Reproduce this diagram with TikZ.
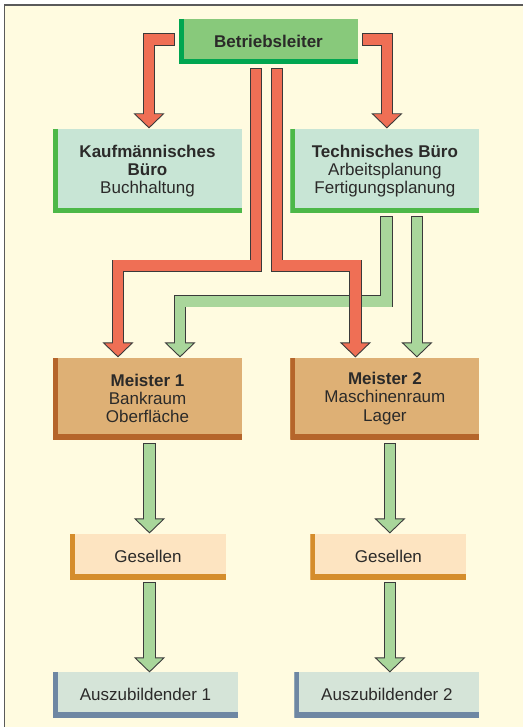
\documentclass[tikz,border=0pt]{standalone}
\usepackage{fontspec}
\setmainfont{Liberation Sans}
\usetikzlibrary{calc, positioning}

\definecolor{cream}{HTML}{FFFBE0}
\definecolor{framegray}{HTML}{5A5A5A}
\definecolor{edge}{HTML}{3A3A3A}
\definecolor{ink}{HTML}{2B2A29}
\definecolor{redfill}{HTML}{EF6F55}
\definecolor{greenfill}{HTML}{A9D69B}
\definecolor{bossfill}{HTML}{88C97B}
\definecolor{bossbar}{HTML}{00A651}
\definecolor{officefill}{HTML}{C8E5D5}
\definecolor{officebar}{HTML}{4DB848}
\definecolor{masterfill}{HTML}{DEB075}
\definecolor{masterbar}{HTML}{B5652B}
\definecolor{journeyfill}{HTML}{FDE4C1}
\definecolor{journeybar}{HTML}{D58D2C}
\definecolor{traineefill}{HTML}{D5E4D8}
\definecolor{traineebar}{HTML}{6E87A3}

% fat outlined arrow: fill colour, path up to the tip, tip
\newcommand{\fatarrow}[3]{%
	\draw[fatline] #2 (#3);
	\filldraw[fathead=#1] (#3) -- ++(-14.5,-14) -- ++(29,0) -- cycle;
	\draw[fatfill=#1] #2 (#3);
}

\begin{document}
\begin{tikzpicture}
		[x=1pt, y=-1pt,
		box/.style 2 args={fill=#1, inner sep=0pt, align=center, text=ink,
			font=\fontsize{17}{18.3}\selectfont,
			path picture={\draw[line width=10pt, draw=#2]
				(path picture bounding box.north west) --
				(path picture bounding box.south west) --
				(path picture bounding box.south east);}},
		fatline/.style={line width=12.4pt, draw=edge, shorten >=13pt},
		fatfill/.style={line width=10.6pt, draw=#1, shorten >=12.6pt, shorten <=0.9pt},
		fathead/.style={fill=#1, draw=edge, line width=0.9pt}]
	
		\useasboundingbox (0,0) rectangle (523,727);
		\fill[white] (0,0) rectangle (523,727);
		\fill[cream] (4,5) rectangle (523,727);
		\draw[framegray, line width=1.6pt] (4.3,727) -- (4.3,5.3) -- (523,5.3);
	
		% nodes %
		\node[box={bossfill}{bossbar}, minimum width=179pt, minimum height=45pt] (boss) at (268.5,41.5) {\textbf{Betriebsleiter}};
		\node[box={officefill}{officebar}, minimum width=189pt, minimum height=84pt] (kauf) at (147.5,171) {\textbf{Kaufmännisches}\\\textbf{Büro}\\Buchhaltung};
		\node[box={officefill}{officebar}, minimum width=189pt, minimum height=84pt, right=48pt of kauf] (tech) {\textbf{Technisches Büro}\\Arbeitsplanung\\Fertigungsplanung};
		\node[box={masterfill}{masterbar}, minimum width=189pt, minimum height=81pt] (m1) at (147.5,398.5) {\textbf{Meister 1}\\Bankraum\\Oberfläche};
		\node[box={masterfill}{masterbar}, minimum width=189pt, minimum height=81pt, right=48pt of m1] (m2) {\textbf{Meister 2}\\Maschinenraum\\Lager};
		\node[box={journeyfill}{journeybar}, minimum width=156pt, minimum height=45pt] (g1) at (148,556.5) {Gesellen};
		\node[box={journeyfill}{journeybar}, minimum width=156pt, minimum height=45pt, right=84pt of g1] (g2) {Gesellen};
		\node[box={traineefill}{traineebar}, minimum width=185pt, minimum height=45pt] (a1) at (145.5,694.5) {Auszubildender 1};
		\node[box={traineefill}{traineebar}, minimum width=185pt, minimum height=45pt, right=56pt of a1] (a2) {Auszubildender 2};
	
		% edges %
		\fatarrow{greenfill}{($(tech.south)+(1.5,3)$) -- ++(0,85) -|}{$(m1.north)+(32.5,-1)$}
		\fatarrow{greenfill}{($(tech.south)+(32,3)$) --}{$(m2.north)+(32,-1)$}
		\fatarrow{greenfill}{($(m1.south)+(2,4)$) --}{$(g1.north)+(1.5,-1)$}
		\fatarrow{greenfill}{($(g1.south)+(1.5,3)$) --}{$(a1.north)+(4,0)$}
		\fatarrow{greenfill}{($(m2.south)+(5,4)$) --}{$(g2.north)+(1.5,-1)$}
		\fatarrow{greenfill}{($(g2.south)+(1.5,3)$) --}{$(a2.north)+(3,0)$}
	
		\fatarrow{redfill}{($(boss.west)+(-4,-2)$) -|}{$(kauf.north)+(1.5,-1)$}
		\fatarrow{redfill}{($(boss.east)+(4,-2)$) -|}{$(tech.north)+(2,-1)$}
		\fatarrow{redfill}{($(boss.south)+(-12.5,4)$) -- ++(0,197.5) -|}{$(m1.north)+(-29.5,-1)$}
		\fatarrow{redfill}{($(boss.south)+(8.5,4)$) -- ++(0,197.5) -|}{$(m2.north)+(-29.5,-1)$}
	
		\end{tikzpicture}
\end{document}
